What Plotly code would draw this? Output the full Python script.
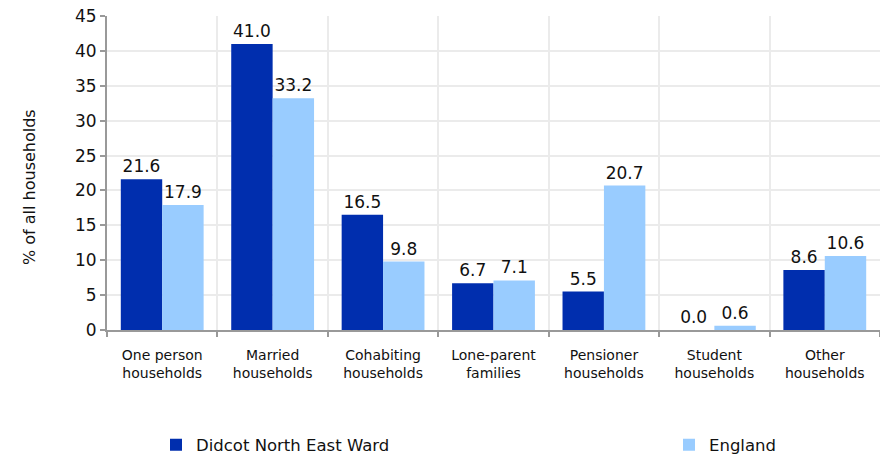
import plotly.graph_objects as go

categories = ["One person<br>households", "Married<br>households", "Cohabiting<br>households",
              "Lone-parent<br>families", "Pensioner<br>households", "Student<br>households",
              "Other<br>households"]
didcot = [21.6, 41.0, 16.5, 6.7, 5.5, 0.0, 8.6]
england = [17.9, 33.2, 9.8, 7.1, 20.7, 0.6, 10.6]
y_ticks = [0, 5, 10, 15, 20, 25, 30, 35, 40, 45]

font_family = "DejaVu Sans, Liberation Sans, Arial, sans-serif"

fig = go.Figure()
fig.add_trace(go.Bar(
    x=categories, y=didcot, name="Didcot North East Ward",
    marker=dict(color="#002EAE", line=dict(width=0)),
    text=[f"{v:.1f}" for v in didcot], textposition="outside", constraintext="none",
    textfont=dict(size=17, color="#111111", family=font_family),
    cliponaxis=False, legend="legend",
))
fig.add_trace(go.Bar(
    x=categories, y=england, name="England",
    marker=dict(color="#99CCFF", line=dict(width=0)),
    text=[f"{v:.1f}" for v in england], textposition="outside", constraintext="none",
    textfont=dict(size=17, color="#111111", family=font_family),
    cliponaxis=False, legend="legend2",
))

W, H = 880, 457
L, R, T, B = 107, 0, 16, 127

def px_x(px):
    return (px - L) / (W - L - R)

def px_y(py):
    return (H - B - py) / (H - T - B)

fig.update_layout(
    width=W, height=H,
    margin=dict(l=L, r=R, t=T, b=B, autoexpand=False),
    paper_bgcolor="white", plot_bgcolor="white",
    barmode="group", bargap=0.25, bargroupgap=0,
    font=dict(family=font_family, size=14, color="#111111"),
    showlegend=True,
    legend=dict(x=px_x(156), xanchor="left", y=px_y(445), yanchor="middle",
                font=dict(size=16.5, color="#111111"), bgcolor="rgba(0,0,0,0)"),
    legend2=dict(x=px_x(669), xanchor="left", y=px_y(445), yanchor="middle",
                 font=dict(size=16.5, color="#111111"), bgcolor="rgba(0,0,0,0)"),
    annotations=[dict(text="% of all households", xref="paper", yref="paper",
                      x=px_x(29), y=px_y(187), xanchor="center", yanchor="middle",
                      textangle=-90, showarrow=False,
                      font=dict(size=16, color="#111111"))],
)
fig.update_xaxes(
    type="category", tickson="boundaries", showgrid=True, gridcolor="#EBEBEB", gridwidth=2,
    showline=True, linecolor="#999999", linewidth=2,
    ticks="outside", ticklen=5, tickcolor="#999999", tickwidth=2,
    tickfont=dict(size=14, color="#111111"), ticklabelstandoff=11, automargin=False,
)
fig.update_yaxes(
    range=[0, 45], tickvals=y_ticks, showgrid=True, gridcolor="#EBEBEB", gridwidth=2,
    showline=True, linecolor="#999999", linewidth=2,
    ticks="outside", ticklen=5, tickcolor="#999999", tickwidth=2,
    tickfont=dict(size=17, color="#111111"), zeroline=False, automargin=False,
    ticklabeloverflow="allow",
)

fig.write_html("out.html", config={"displayModeBar": False},
               post_script="document.body.style.margin='0px';")
